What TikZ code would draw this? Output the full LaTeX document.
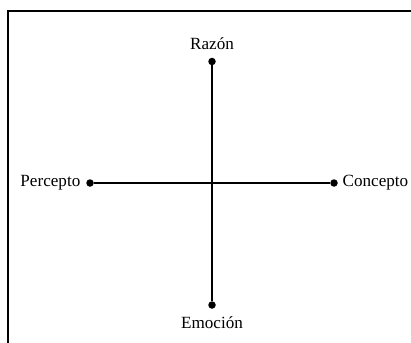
\documentclass[tikz,border=0pt]{standalone}
\usepackage{fontspec}
\setmainfont{Liberation Serif}
\begin{document}
\begin{tikzpicture}[x=1pt,y=-1pt,
  dotnode/.style={circle,fill=black,inner sep=0pt,minimum size=7.5pt},
  lbl/.style={font=\fontsize{17.1}{20}\selectfont,inner sep=0pt},
  axis/.style={line width=2pt},
  frameline/.style={line width=2pt}]
\useasboundingbox (0,0) rectangle (411,342);
% frame
\coordinate (fbl) at (8,343);
\coordinate (ftl) at (8,11);
\coordinate (ftr) at (412,11);
\draw[frameline] (fbl) -- (ftl) -- (ftr);
% dots
\node[dotnode] (r) at (212,61.5) {};
\node[dotnode] (e) at (212,305) {};
\node[dotnode] (p) at (90,183) {};
\node[dotnode] (c) at (334,183) {};
\draw[axis] (r) -- (e);
\draw[axis] (p) -- (c);
% labels
\node[lbl] (lr) at (212,44) {Razón};
\node[lbl] (le) at (212,322.5) {Emoción};
\node[lbl,anchor=east] (lp) at (80.5,183) {Percepto};
\node[lbl,anchor=west] (lc) at (342.5,183) {Concepto};
\end{tikzpicture}
\end{document}
